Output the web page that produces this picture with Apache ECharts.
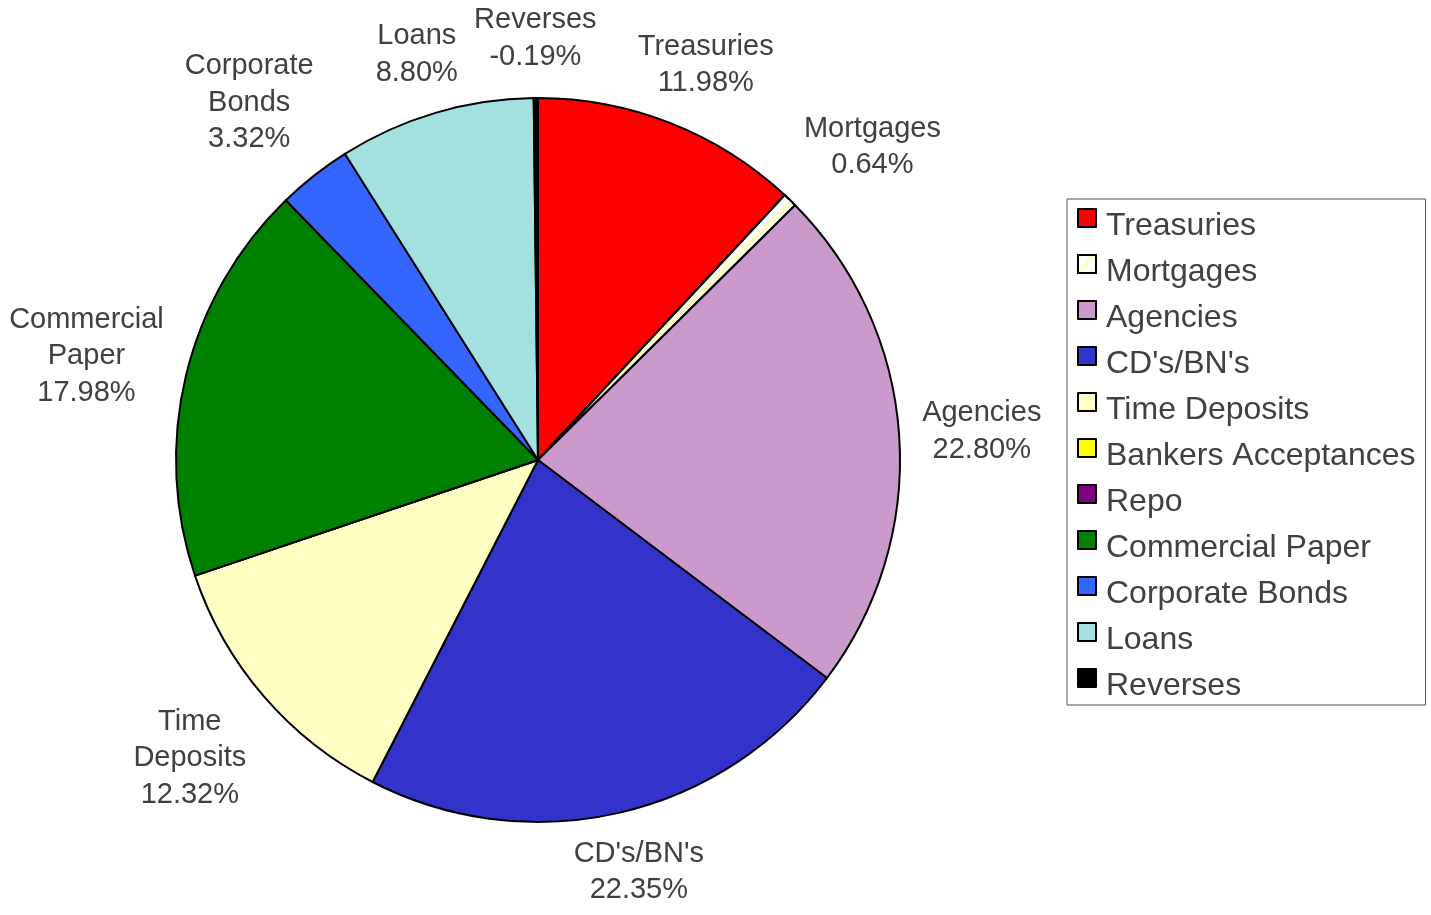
<!DOCTYPE html>
<html>
<head>
<meta charset="utf-8">
<script src="https://cdn.jsdelivr.net/npm/echarts@6/dist/echarts.min.js"></script>
<style>
html,body{margin:0;padding:0;background:#fff;}
#chart{width:1431px;height:915px;}
</style>
</head>
<body>
<div id="chart"></div>
<script>
const categories = ["Treasuries","Mortgages","Agencies","CD's/BN's","Time Deposits","Bankers Acceptances","Repo","Commercial Paper","Corporate Bonds","Loans","Reverses"];
const labelNames = ["Treasuries","Mortgages","Agencies","CD's/BN's","Time\nDeposits","Bankers Acceptances","Repo","Commercial\nPaper","Corporate\nBonds","Loans","Reverses"];
const percents = [11.98, 0.64, 22.80, 22.35, 12.32, 0, 0, 17.98, 3.32, 8.80, -0.19];
const colors = ["#ff0000","#ffffff","#cc99cc","#3333cc","#ffffc4","#ffff00","#800080","#008000","#3366ff","#a3e0e0","#000000"];

const CX = 538, CY = 460, R = 362, D = 385;
const total = percents.reduce((a, b) => a + Math.abs(b), 0);

const data = categories.map((c, i) => {
  const item = {
    name: c,
    value: Math.abs(percents[i]),
    itemStyle: { color: colors[i] },
    label: { show: percents[i] !== 0 }
  };
  if (c === "Mortgages") {
    item.itemStyle.decal = {
      symbol: 'rect', symbolSize: 1, color: '#ffffc4',
      dashArrayX: [1, 0], dashArrayY: [4, 6], rotation: -Math.PI / 4
    };
  }
  return item;
});

const chart = echarts.init(document.getElementById('chart'), null, { renderer: 'canvas' });
chart.setOption({
  backgroundColor: '#ffffff',
  animation: false,
  legend: {
    orient: 'vertical',
    left: 1067, top: 199,
    padding: [9, 10, 1, 10],
    borderColor: '#555555', borderWidth: 1,
    itemWidth: 18, itemHeight: 34, itemGap: 10,
    icon: 'path://M0,0L18,0L18,18L0,18Z M0,34',
    itemStyle: { borderColor: '#000000', borderWidth: 2 },
    textStyle: { fontFamily: 'Liberation Sans', fontSize: 32, color: '#404040', lineHeight: 32, padding: [0, 0, 0, 5] },
    data: categories
  },
  series: [{
    type: 'pie',
    center: [CX, CY],
    radius: R,
    startAngle: 90,
    clockwise: true,
    avoidLabelOverlap: false,
    itemStyle: { borderColor: '#000000', borderWidth: 2 },
    emphasis: { disabled: true },
    label: {
      position: 'outside',
      fontFamily: 'Liberation Sans',
      fontSize: 29,
      lineHeight: 36.5,
      color: '#404040',
      align: 'center',
      formatter: p => labelNames[p.dataIndex] + '\n' + percents[p.dataIndex].toFixed(2) + '%'
    },
    labelLine: { show: false },
    labelLayout: function (p) {
      const i = p.dataIndex;
      let cum = 0;
      for (let k = 0; k < i; k++) cum += Math.abs(percents[k]);
      const mid = (cum + Math.abs(percents[i]) / 2) / total * 2 * Math.PI;
      const ux = Math.sin(mid), uy = -Math.cos(mid);
      const m = Math.max(Math.abs(ux), Math.abs(uy));
      const hw = p.labelRect.width / 2, hh = p.labelRect.height / 2;
      return {
        x: CX + D * ux + hw * ux / m,
        y: CY + D * uy + hh * uy / m,
        align: 'center',
        verticalAlign: 'middle'
      };
    },
    data: data
  }]
});
</script>
</body>
</html>
